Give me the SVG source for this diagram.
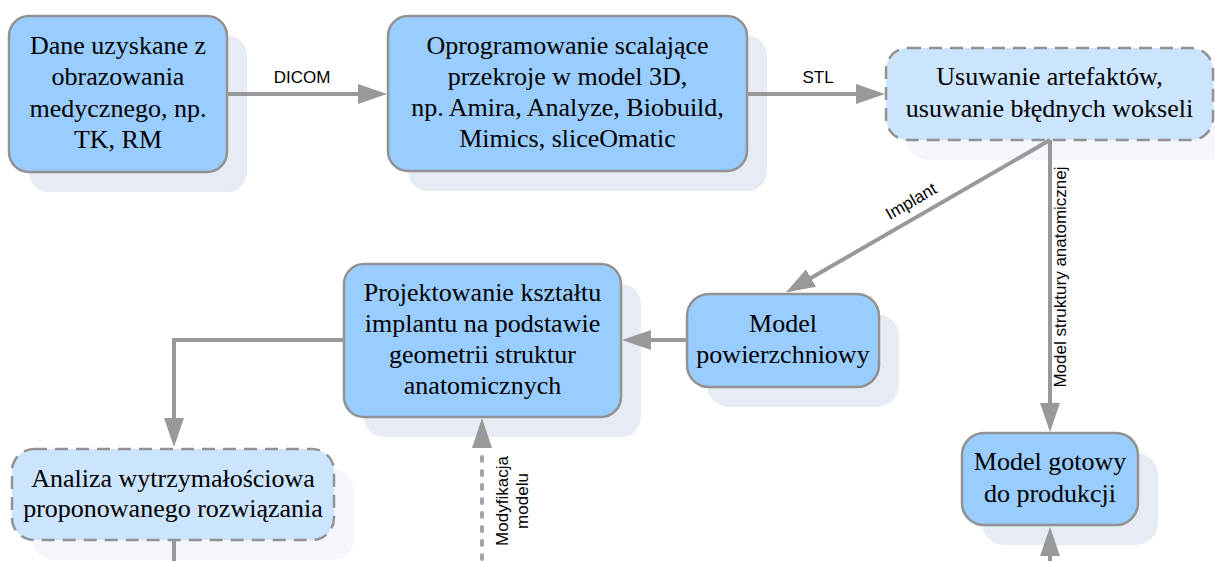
<svg xmlns="http://www.w3.org/2000/svg" width="1215" height="561" viewBox="0 0 1215 561">
<defs>
<style>
.sh{fill:#e7ecf4;}
.shl{fill:#f4f6fb;}
.n{fill:#99ccff;stroke:#929292;stroke-width:2.5;}
.nd{fill:#cce5ff;stroke:#929292;stroke-width:2.5;stroke-dasharray:13 8;}
.t{font-family:"Liberation Serif","Times New Roman",serif;font-size:26px;fill:#000;text-anchor:middle;}
.l{font-family:"Liberation Sans",Arial,sans-serif;font-size:17px;fill:#000;text-anchor:middle;}
.c{fill:none;stroke:#999999;stroke-width:4;}
.cd{fill:none;stroke:#a3a3a3;stroke-width:4;stroke-dasharray:4 10;stroke-linecap:round;}
</style>
<marker id="ah" markerUnits="userSpaceOnUse" markerWidth="30" markerHeight="20" refX="1" refY="10" orient="auto">
<path d="M0,0 L29,10 L0,20 Z" fill="#999999"/>
</marker>
</defs>
<rect width="1215" height="561" fill="#ffffff"/>

<g id="n1">
<rect class="sh" x="29" y="36" width="218" height="156" rx="20"/>
<rect class="n" x="9" y="16" width="218" height="156" rx="20"/>
<text class="t" x="118" y="54">Dane uzyskane z</text>
<text class="t" x="118" y="85">obrazowania</text>
<text class="t" x="118" y="117">medycznego, np.</text>
<text class="t" x="118" y="148">TK, RM</text>
</g>

<g id="n2">
<rect class="sh" x="408" y="36" width="359" height="155" rx="20"/>
<rect class="n" x="388" y="16" width="359" height="155" rx="20"/>
<text class="t" x="567.5" y="54">Oprogramowanie scalające</text>
<text class="t" x="567.5" y="85">przekroje w model 3D,</text>
<text class="t" x="567.5" y="116">np. Amira, Analyze, Biobuild,</text>
<text class="t" x="567.5" y="147">Mimics, sliceOmatic</text>
</g>

<g id="n3">
<rect class="shl" x="906" y="68" width="327" height="92" rx="22"/>
<rect class="nd" x="886" y="48" width="327" height="92" rx="22"/>
<text class="t" x="1049.5" y="85">Usuwanie artefaktów,</text>
<text class="t" x="1049.5" y="117">usuwanie błędnych wokseli</text>
</g>

<g id="n4">
<rect class="sh" x="707" y="314" width="192" height="93" rx="22"/>
<rect class="n" x="687" y="294" width="192" height="93" rx="22"/>
<text class="t" x="783" y="332">Model</text>
<text class="t" x="783" y="363">powierzchniowy</text>
</g>

<g id="n5">
<rect class="sh" x="364" y="284" width="277" height="153" rx="20"/>
<rect class="n" x="344" y="264" width="277" height="153" rx="20"/>
<text class="t" x="482.5" y="301">Projektowanie kształtu</text>
<text class="t" x="482.5" y="332">implantu na podstawie</text>
<text class="t" x="482.5" y="363">geometrii struktur</text>
<text class="t" x="482.5" y="394">anatomicznych</text>
</g>

<g id="n6">
<rect class="shl" x="32" y="469" width="322" height="91" rx="22"/>
<rect class="nd" x="12" y="449" width="322" height="91" rx="22"/>
<text class="t" x="173" y="487">Analiza wytrzymałościowa</text>
<text class="t" x="173" y="517">proponowanego rozwiązania</text>
</g>

<g id="n7">
<rect class="sh" x="982" y="453" width="176" height="92" rx="22"/>
<rect class="n" x="962" y="433" width="176" height="92" rx="22"/>
<text class="t" x="1050" y="470">Model gotowy</text>
<text class="t" x="1050" y="502">do produkcji</text>
</g>

<g id="connectors">
<path class="c" d="M227,94 L359,94" marker-end="url(#ah)"/>
<text class="l" x="302" y="83">DICOM</text>
<path class="c" d="M747,94 L857,94" marker-end="url(#ah)"/>
<text class="l" x="818" y="83">STL</text>
<path class="c" d="M1050,140 L810.1,278.5" marker-end="url(#ah)"/>
<text class="l" transform="translate(911,201) rotate(-30)" x="0" y="6">Implant</text>
<path class="c" d="M1050,140 L1050,404" marker-end="url(#ah)"/>
<text class="l" transform="translate(1066,277) rotate(-90)" x="0" y="0">Model struktury anatomicznej</text>
<path class="c" d="M687,340 L650,340" marker-end="url(#ah)"/>
<path class="c" d="M344,340 L174,340 L174,419" marker-end="url(#ah)"/>
<path class="c" d="M174,540 L174,561"/>
<path class="cd" d="M482,559 L482,452"/>
<path d="M482,418 L492,448 L472,448 Z" fill="#999999"/>
<text class="l" transform="translate(508,501) rotate(-90)" x="0" y="0">Modyfikacja</text>
<text class="l" transform="translate(528,501) rotate(-90)" x="0" y="0">modelu</text>
<path class="c" d="M1050,561 L1050,555" marker-end="url(#ah)"/>
</g>
</svg>
